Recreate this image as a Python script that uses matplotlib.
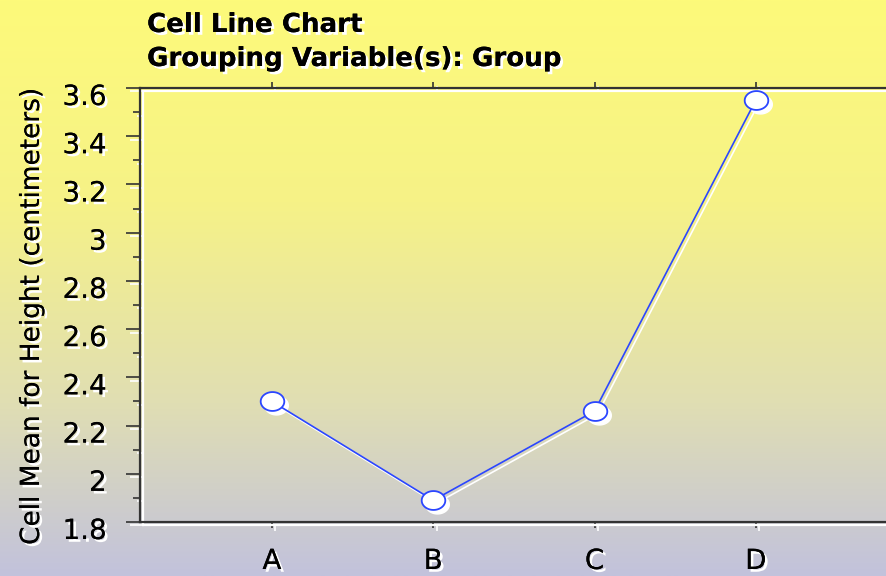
import numpy as np
import matplotlib
matplotlib.use("Agg")
import matplotlib.pyplot as plt
import matplotlib.patheffects as pe
from matplotlib.colors import LinearSegmentedColormap
from matplotlib.path import Path
from matplotlib.transforms import offset_copy, ScaledTranslation
from matplotlib.ticker import MultipleLocator

# data
groups = ["A", "B", "C", "D"]
cell_means = [2.30, 1.89, 2.26, 3.55]

plt.rcParams['font.family'] = ['DejaVu Sans']

fig = plt.figure(figsize=(8.86, 5.76), dpi=100)

# background gradient (yellow -> lavender grey)
bg = fig.add_axes([0, 0, 1, 1], zorder=-10)
cmap = LinearSegmentedColormap.from_list(
    "bg", [(0.0, "#FDFA7A"), (0.35, "#F6F287"), (0.7, "#E0DEB3"), (1.0, "#C2C2DC")])
bg.imshow(np.linspace(0, 1, 256).reshape(-1, 1), cmap=cmap, aspect="auto",
          extent=[0, 1, 0, 1])
bg.axis("off")

ax = fig.add_axes([140 / 886, 1 - 522 / 576, 0.86, (522 - 88) / 576])
ax.patch.set_visible(False)

txt_shadow = [pe.withSimplePatchShadow(offset=(2, -2), shadow_rgbFace="white", alpha=1), pe.Normal()]
ln_shadow = [pe.SimpleLineShadow(offset=(2.5, -2.5), shadow_color="white", alpha=1), pe.Normal()]

# ellipse marker
t = np.linspace(0, 2 * np.pi, 60)
ell = Path(np.column_stack([np.cos(t), 0.8 * np.sin(t)]), closed=True)

x = np.arange(1, len(groups) + 1)
blue = "#2B46FF"

shadow_tr = offset_copy(ax.transData, fig=fig, x=3, y=-3, units="dots")
ax.plot(x, cell_means, color="white", lw=1.2, transform=shadow_tr, zorder=2)
ax.plot(x, cell_means, ls="none", marker=ell, ms=17, mfc="white", mec="white",
        transform=offset_copy(ax.transData, fig=fig, x=4, y=-4, units="dots"), zorder=2)
ax.plot(x, cell_means, color=blue, lw=1.2, marker=ell, ms=17, mfc="white",
        mec=blue, mew=1.3, zorder=3)

ax.set_xlim(0.182, 4.906)
ax.set_ylim(1.8, 3.6)

ax.set_xticks(x)
ax.set_xticklabels(groups)
ax.yaxis.set_minor_locator(MultipleLocator(0.1))
ax.set_yticks(np.arange(1.8, 3.61, 0.2))
ax.set_yticklabels(["1.8", "2", "2.2", "2.4", "2.6", "2.8", "3", "3.2", "3.4", "3.6"])

ax.spines["right"].set_visible(False)
for s in ["left", "bottom", "top"]:
    ax.spines[s].set_color("#333333")
    ax.spines[s].set_linewidth(1.6)
    ax.spines[s].set_path_effects(ln_shadow)

ax.tick_params(axis="y", which="major", length=10, width=1.2, color="#333333",
               labelsize=20, pad=14, direction="out")
ax.tick_params(axis="y", which="minor", length=5, width=1.2, color="#333333", direction="out")
ax.tick_params(axis="x", which="major", length=4, width=1.2, color="#333333",
               labelsize=20, pad=14, top=True, direction="out")

for tk in ax.yaxis.get_major_ticks() + ax.yaxis.get_minor_ticks() + ax.xaxis.get_major_ticks():
    tk.tick1line.set_path_effects(ln_shadow)
    tk.tick2line.set_path_effects(ln_shadow)

for lab in ax.get_yticklabels():
    lab.set_path_effects(txt_shadow)
    lab.set_transform(lab.get_transform() + ScaledTranslation(0, -0.06, fig.dpi_scale_trans))
for lab in ax.get_xticklabels():
    lab.set_path_effects(txt_shadow)

ax.set_ylabel("Cell Mean for Height (centimeters)", fontsize=19, path_effects=txt_shadow)
ax.yaxis.set_label_coords(45 / 886, 1 - 316 / 576, transform=fig.transFigure)

fig.text(147 / 886, 1 - 32 / 576, "Cell Line Chart", fontsize=18.8, fontweight="bold",
         va="baseline", path_effects=txt_shadow)
fig.text(147 / 886, 1 - 66 / 576, "Grouping Variable(s): Group", fontsize=18.8,
         fontweight="bold", va="baseline", path_effects=txt_shadow)

fig.savefig("out.png", dpi=100)
